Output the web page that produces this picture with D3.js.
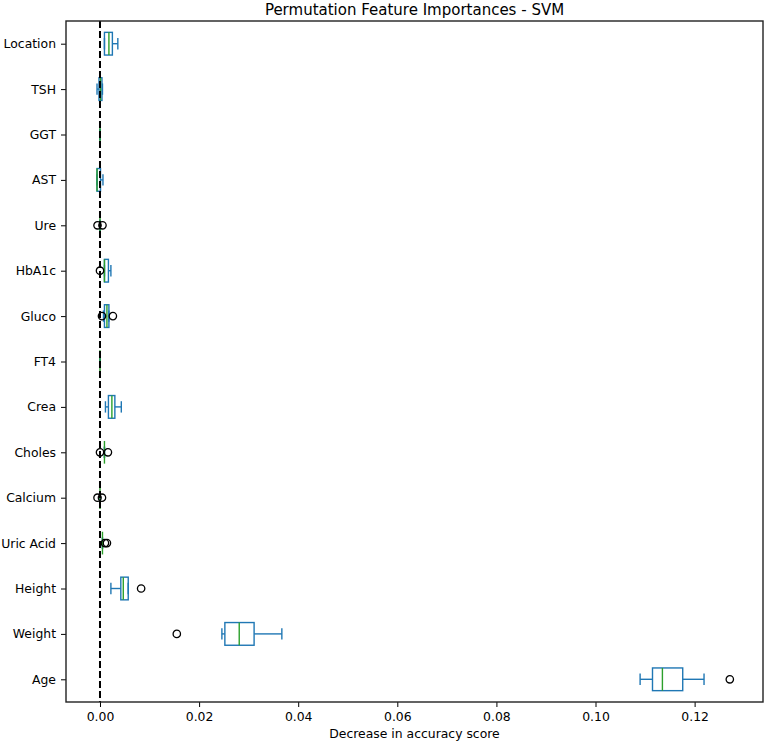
<!DOCTYPE html>
<html>
<head>
<meta charset="utf-8">
<script src="https://cdn.jsdelivr.net/npm/d3@7"></script>
<style>
  body { margin: 0; background: #fff; }
  svg text { font-family: "DejaVu Sans", sans-serif; fill: #000; }
</style>
</head>
<body>
<div id="chart"></div>
<script>
// feature names, top to bottom
const features = ["Location", "TSH", "GGT", "AST", "Ure", "HbA1c", "Gluco", "FT4",
    "Crea", "Choles", "Calcium", "Uric Acid", "Height", "Weight", "Age"];

// box stats
const whiskerLo = [0.0009, -0.0006, 0, -0.0006, 0, 0.0009, 0.0007, 0, 0.0011, 0.0009, 0, 0.0005, 0.0022, 0.0246, 0.1090];
const q1        = [0.0009, -0.0002, 0, -0.0006, 0, 0.0009, 0.0009, 0, 0.0017, 0.0009, 0, 0.0005, 0.0042, 0.0252, 0.1115];
const median    = [0.0018, 0.0001, 0, -0.0006, 0, 0.0009, 0.0014, 0, 0.0024, 0.0009, 0, 0.0005, 0.0047, 0.0281, 0.1135];
const q3        = [0.0025, 0.0004, 0, 0.0001, 0, 0.0017, 0.0018, 0, 0.0030, 0.0009, 0, 0.0005, 0.0057, 0.0311, 0.1176];
const whiskerHi = [0.0036, 0.0005, 0, 0.0006, 0, 0.0022, 0.0018, 0, 0.0043, 0.0009, 0, 0.0005, 0.0057, 0.0367, 0.1219];
const fliers = [[], [], [], [], [-0.0005, 0.0005], [0.0], [0.0004, 0.0026], [],
    [], [0.0, 0.0016], [-0.0005, 0.0004], [0.0010, 0.0014], [0.0083], [0.0155], [0.1271]];

const xTicks = [0, 0.02, 0.04, 0.06, 0.08, 0.10, 0.12];

const W = 767, H = 743;
const margin = { top: 21, right: 4, bottom: 41, left: 66 };
const width = W - margin.left - margin.right,
    height = H - margin.top - margin.bottom;

const svg = d3.select("#chart").append("svg")
    .attr("width", W).attr("height", H)
    .append("g")
    .attr("transform", `translate(${margin.left},${margin.top})`);

const x = d3.scaleLinear().domain([-0.00686, 0.1338]).range([0, width]);
const y = d3.scalePoint().domain(features).range([0, height]).padding(0.5);
const step = y.step();
const boxH = step * 0.5, capH = step * 0.25;

const blue = "#1f77b4", green = "#2ca02c";
const data = features.map((f, i) => ({
    f, lo: whiskerLo[i], q1: q1[i], med: median[i], q3: q3[i], hi: whiskerHi[i], fl: fliers[i]
}));

const g = svg.selectAll("g.box").data(data).join("g").attr("class", "box")
    .attr("transform", d => `translate(0,${y(d.f)})`);

// whiskers
g.append("line").attr("x1", d => x(d.lo)).attr("x2", d => x(d.q1))
    .attr("stroke", blue).attr("stroke-width", 1.4);
g.append("line").attr("x1", d => x(d.q3)).attr("x2", d => x(d.hi))
    .attr("stroke", blue).attr("stroke-width", 1.4);
// caps
g.append("line").attr("x1", d => x(d.lo)).attr("x2", d => x(d.lo))
    .attr("y1", -capH / 2).attr("y2", capH / 2)
    .attr("stroke", blue).attr("stroke-width", 1.4);
g.append("line").attr("x1", d => x(d.hi)).attr("x2", d => x(d.hi))
    .attr("y1", -capH / 2).attr("y2", capH / 2)
    .attr("stroke", blue).attr("stroke-width", 1.4);
// box
g.append("rect").attr("x", d => x(d.q1)).attr("width", d => x(d.q3) - x(d.q1))
    .attr("y", -boxH / 2).attr("height", boxH)
    .attr("fill", "none").attr("stroke", blue).attr("stroke-width", 1.4);
// median
g.append("line").attr("x1", d => x(d.med)).attr("x2", d => x(d.med))
    .attr("y1", -boxH / 2).attr("y2", boxH / 2)
    .attr("stroke", green).attr("stroke-width", 1.4);
// fliers
g.selectAll("circle").data(d => d.fl).join("circle")
    .attr("cx", v => x(v)).attr("cy", 0).attr("r", 3.7)
    .attr("fill", "none").attr("stroke", "#000").attr("stroke-width", 1.3);

// zero reference line
svg.append("line")
    .attr("x1", x(0)).attr("x2", x(0)).attr("y1", 0).attr("y2", height)
    .attr("stroke", "#000").attr("stroke-width", 2).attr("stroke-dasharray", "7,3");

// axes
const xAxis = svg.append("g").attr("transform", `translate(0,${height})`)
    .call(d3.axisBottom(x).tickValues(xTicks).tickFormat(d3.format(".2f")).tickSize(5).tickPadding(5));
const yAxis = svg.append("g")
    .call(d3.axisLeft(y).tickSize(5).tickPadding(5));
[xAxis, yAxis].forEach(a => {
    a.select(".domain").remove();
    a.selectAll("text").style("font-size", "12.4px");
    a.selectAll(".tick line").attr("stroke", "#000").attr("stroke-width", 1);
});

// frame
svg.append("rect").attr("width", width).attr("height", height)
    .attr("fill", "none").attr("stroke", "#222").attr("stroke-width", 1.4);

svg.append("text").attr("x", width / 2).attr("y", -6)
    .attr("text-anchor", "middle").style("font-size", "15px")
    .text("Permutation Feature Importances - SVM");

svg.append("text").attr("x", width / 2).attr("y", height + 36)
    .attr("text-anchor", "middle").style("font-size", "12.4px")
    .text("Decrease in accuracy score");
</script>
</body>
</html>
